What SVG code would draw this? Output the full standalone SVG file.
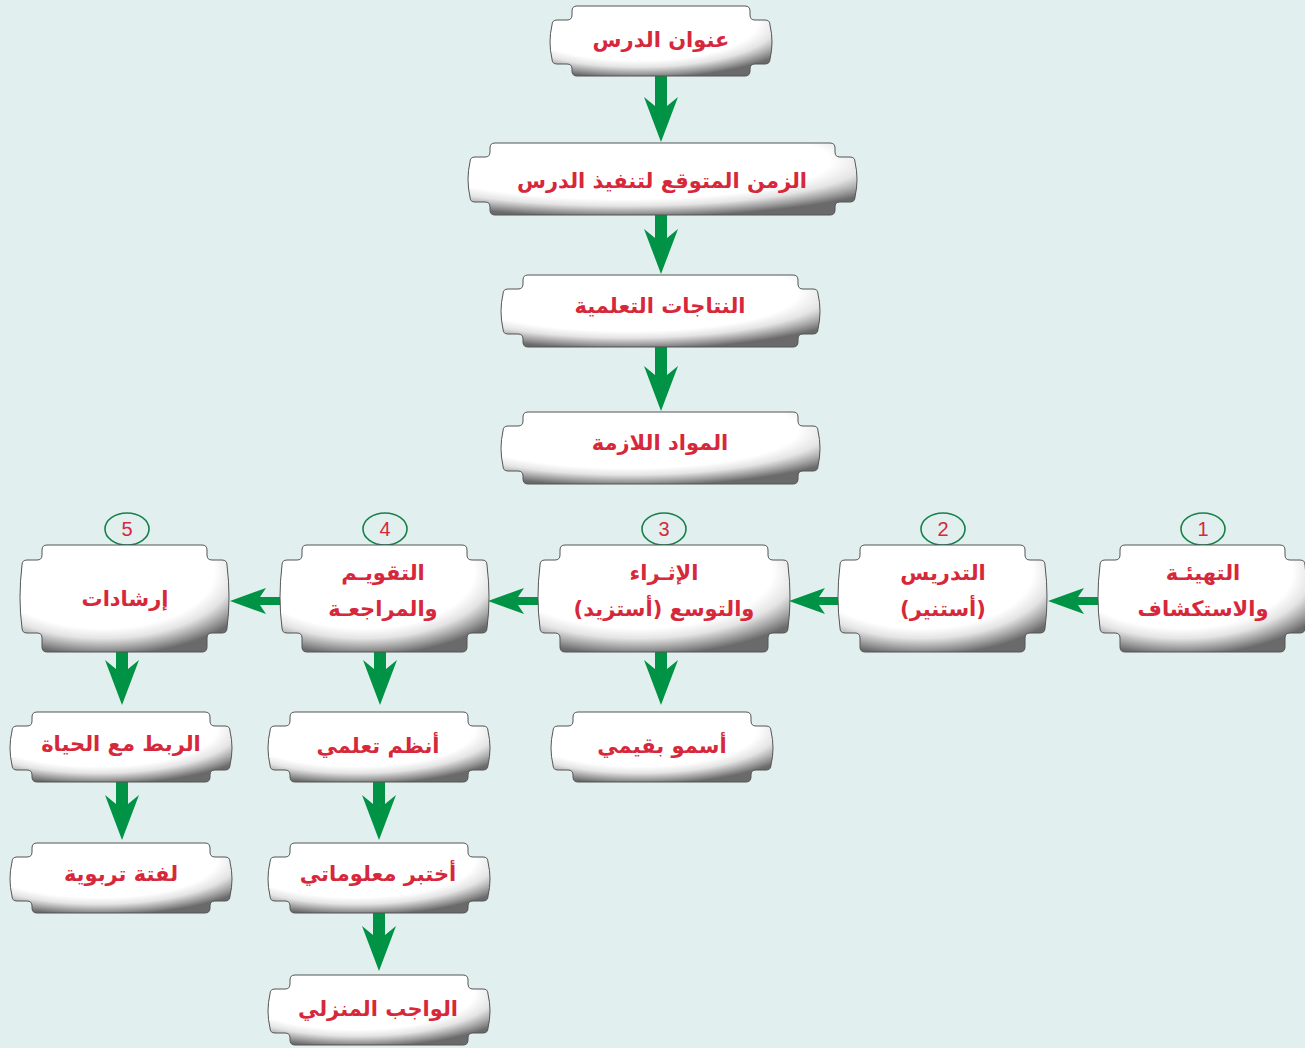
<svg xmlns="http://www.w3.org/2000/svg" xmlns:xlink="http://www.w3.org/1999/xlink" width="1305" height="1048" viewBox="0 0 1305 1048">
<style>
.t{font-family:"DejaVu Sans","Noto Sans",sans-serif;font-weight:bold;font-size:21px;fill:#d7283b;text-anchor:middle;direction:rtl}
.n{font-family:"Liberation Sans",Arial,sans-serif;font-size:20px;fill:#d7283b;text-anchor:middle}
.c{fill:#e1f0ef;stroke:#17804a;stroke-width:1.6}
.s{fill:url(#g);stroke:#555;stroke-width:1}
.a{fill:#009245}
</style>
<defs>
<radialGradient id="g" cx="0.4" cy="0.25" r="0.78" fx="0.4" fy="0.25">
<stop offset="0" stop-color="#ffffff"/>
<stop offset="0.68" stop-color="#ffffff"/>
<stop offset="0.8" stop-color="#e4e4e4"/>
<stop offset="0.92" stop-color="#9c9c9c"/>
<stop offset="1" stop-color="#6a6a6a"/>
</radialGradient>
<path id="sA" d="M25,0 H193 Q198,0 198,5 V9 Q198,14 203,14 H213 Q218,14 218,19 Q222,36 218,53 Q218,58 213,58 H203 Q198,58 198,63 V65 Q198,70 193,70 H25 Q20,70 20,65 V63 Q20,58 15,58 H5 Q0,58 0,53 Q-4,36 0,19 Q0,14 5,14 H15 Q20,14 20,9 V5 Q20,0 25,0 Z"/>
<path id="sB" d="M25,0 H290 Q295,0 295,5 V9 Q295,14 300,14 H310 Q315,14 315,19 Q319,36 315,54 Q315,59 310,59 H300 Q295,59 295,64 V67 Q295,72 290,72 H25 Q20,72 20,67 V64 Q20,59 15,59 H5 Q0,59 0,54 Q-4,36 0,19 Q0,14 5,14 H15 Q20,14 20,9 V5 Q20,0 25,0 Z"/>
<path id="sC" d="M25,0 H360 Q365,0 365,5 V9 Q365,14 370,14 H380 Q385,14 385,19 Q389,36 385,54 Q385,59 380,59 H370 Q365,59 365,64 V67 Q365,72 360,72 H25 Q20,72 20,67 V64 Q20,59 15,59 H5 Q0,59 0,54 Q-4,36 0,19 Q0,14 5,14 H15 Q20,14 20,9 V5 Q20,0 25,0 Z"/>
<path id="sD" d="M25,0 H180 Q185,0 185,5 V10 Q185,15 190,15 H200 Q205,15 205,20 Q209,53 205,83 Q205,88 200,88 H190 Q185,88 185,93 V102 Q185,107 180,107 H25 Q20,107 20,102 V93 Q20,88 15,88 H5 Q0,88 0,83 Q-4,53 0,20 Q0,15 5,15 H15 Q20,15 20,10 V5 Q20,0 25,0 Z"/>
<path id="sE" d="M25,0 H223 Q228,0 228,5 V10 Q228,15 233,15 H243 Q248,15 248,20 Q252,53 248,83 Q248,88 243,88 H233 Q228,88 228,93 V102 Q228,107 223,107 H25 Q20,107 20,102 V93 Q20,88 15,88 H5 Q0,88 0,83 Q-4,53 0,20 Q0,15 5,15 H15 Q20,15 20,10 V5 Q20,0 25,0 Z"/>
</defs>
<rect width="1305" height="1048" fill="#e1f0ef"/>
<g id="connectors">
<polygon class="a" points="655,72 667,72 667,106 678,97 661,142 644,97 655,106"/>
<polygon class="a" points="655,212 667,212 667,238 678,229 661,274 644,229 655,238"/>
<polygon class="a" points="655,344 667,344 667,375 678,366 661,411 644,366 655,375"/>
<polygon class="a" points="655,648 667,648 667,669 678,660 661,705 644,660 655,669"/>
<polygon class="a" points="374,648 386,648 386,669 397,660 380,705 363,660 374,669"/>
<polygon class="a" points="116,648 128,648 128,669 139,660 122,705 105,660 116,669"/>
<polygon class="a" points="373,780 385,780 385,804 396,795 379,840 362,795 373,804"/>
<polygon class="a" points="116,780 128,780 128,804 139,795 122,840 105,795 116,804"/>
<polygon class="a" points="373,911 385,911 385,935 396,926 379,971 362,926 373,935"/>
<polygon class="a" points="1102,597 1102,605 1078,605 1084,614 1048,601 1084,588 1078,597"/>
<polygon class="a" points="842,597 842,605 819,605 825,614 789,601 825,588 819,597"/>
<polygon class="a" points="542,597 542,605 518,605 524,614 488,601 524,588 518,597"/>
<polygon class="a" points="284,597 284,605 260,605 266,614 230,601 266,588 260,597"/>
</g>
<g id="n1"><use xlink:href="#sA" class="s" transform="translate(552,6)"/><text class="t" x="661" y="47">عنوان الدرس</text></g>
<g id="n2"><use xlink:href="#sC" class="s" transform="translate(470,143)"/><text class="t" x="662" y="188">الزمن المتوقع لتنفيذ الدرس</text></g>
<g id="n3"><use xlink:href="#sB" class="s" transform="translate(503,275)"/><text class="t" x="660" y="313">النتاجات التعلمية</text></g>
<g id="n4"><use xlink:href="#sB" class="s" transform="translate(503,412)"/><text class="t" x="660" y="450">المواد اللازمة</text></g>
<g id="r1"><ellipse class="c" cx="1203" cy="529" rx="22" ry="16"/><text class="n" x="1203" y="536">1</text><use xlink:href="#sD" class="s" transform="translate(1100,545)"/><text class="t" x="1203" y="580">التهيئـة</text><text class="t" x="1203" y="616">والاستكشاف</text></g>
<g id="r2"><ellipse class="c" cx="943" cy="529" rx="22" ry="16"/><text class="n" x="943" y="536">2</text><use xlink:href="#sD" class="s" transform="translate(840,545)"/><text class="t" x="943" y="580">التدريس</text><text class="t" x="943" y="616">(أستنير)</text></g>
<g id="r3"><ellipse class="c" cx="664" cy="529" rx="22" ry="16"/><text class="n" x="664" y="536">3</text><use xlink:href="#sE" class="s" transform="translate(540,545)"/><text class="t" x="664" y="580">الإثـراء</text><text class="t" x="664" y="616">والتوسع (أستزيد)</text></g>
<g id="r4"><ellipse class="c" cx="385" cy="529" rx="22" ry="16"/><text class="n" x="385" y="536">4</text><use xlink:href="#sD" class="s" transform="translate(282,545)"/><text class="t" x="383" y="580">التقويـم</text><text class="t" x="383" y="616">والمراجعـة</text></g>
<g id="r5"><ellipse class="c" cx="127" cy="529" rx="22" ry="16"/><text class="n" x="127" y="536">5</text><use xlink:href="#sD" class="s" transform="translate(22,545)"/><text class="t" x="125" y="606">إرشادات</text></g>
<g id="b1"><use xlink:href="#sA" class="s" transform="translate(553,712)"/><text class="t" x="662" y="753">أسمو بقيمي</text></g>
<g id="b2"><use xlink:href="#sA" class="s" transform="translate(270,712)"/><text class="t" x="378" y="753">أنظم تعلمي</text></g>
<g id="b3"><use xlink:href="#sA" class="s" transform="translate(12,712)"/><text class="t" x="121" y="751">الربط مع الحياة</text></g>
<g id="c1"><use xlink:href="#sA" class="s" transform="translate(270,843)"/><text class="t" x="378" y="881">أختبر معلوماتي</text></g>
<g id="c2"><use xlink:href="#sA" class="s" transform="translate(12,843)"/><text class="t" x="121" y="881">لفتة تربوية</text></g>
<g id="d1"><use xlink:href="#sA" class="s" transform="translate(270,975)"/><text class="t" x="378" y="1016">الواجب المنزلي</text></g>
</svg>
